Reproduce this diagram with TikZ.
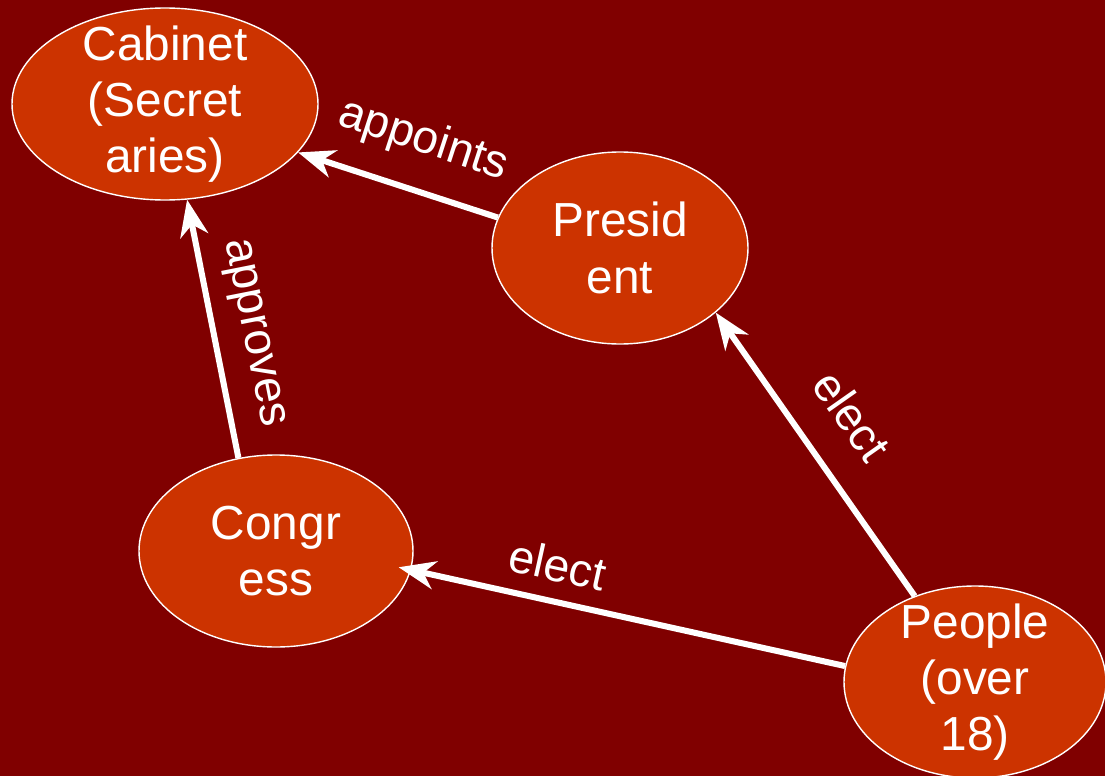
\documentclass[tikz,border=0pt]{standalone}
\usepackage{fontspec}
\setmainfont{Liberation Sans}
\usetikzlibrary{shapes,arrows.meta}
\definecolor{bgred}{HTML}{800000}
\definecolor{boxred}{HTML}{CC3300}

\begin{document}
\begin{tikzpicture}[
    branch/.style={ellipse,draw=white,line width=1pt,fill=boxred,text=white,
        align=center,inner sep=0pt,minimum height=4.8cm,
        font=\fontsize{34}{40}\selectfont},
    link/.style={draw=white,line width=4.3pt,
        -{Stealth[length=26pt,width=20pt,inset=8pt]}},
    verb/.style={text=white,inner sep=0pt,sloped,font=\fontsize{33}{38}\selectfont}
]
    %background
    \fill[bgred] (0,0) rectangle (27.625,-19.4);
    \useasboundingbox (0,0) rectangle (27.625,-19.4);

    %branches
    \node[branch,minimum width=7.65cm,inner ysep=-10pt] (cabinet) at (4.125,-2.6) {Cabinet\\(Secret\\aries)};
    \node[branch,minimum width=6.4cm] (president) at (15.5,-6.2) {Presid\\ent};
    \node[branch,minimum width=6.85cm] (congress) at (6.9,-13.775) {Congr\\ess};
    \node[branch,minimum width=6.55cm,inner ysep=-10pt] (people) at (24.375,-17.05) {People\\(over\\18)};

    %arrows with their labels
    \draw[link] (president.166) -- (cabinet.-20) node[verb,pos=0.45,above=18pt] {appoints};
    \draw[link] (congress.112) -- (cabinet.-77) node[verb,pos=0.455,above=12pt] {approves};
    \draw[link] (people) -- (president.-34) node[verb,pos=0.53,above=23pt] {elect};
    \draw[link,shorten >=-9pt] (people.173) -- (congress.-8) node[verb,pos=0.68,above=12pt] {elect};
\end{tikzpicture}
\end{document}
